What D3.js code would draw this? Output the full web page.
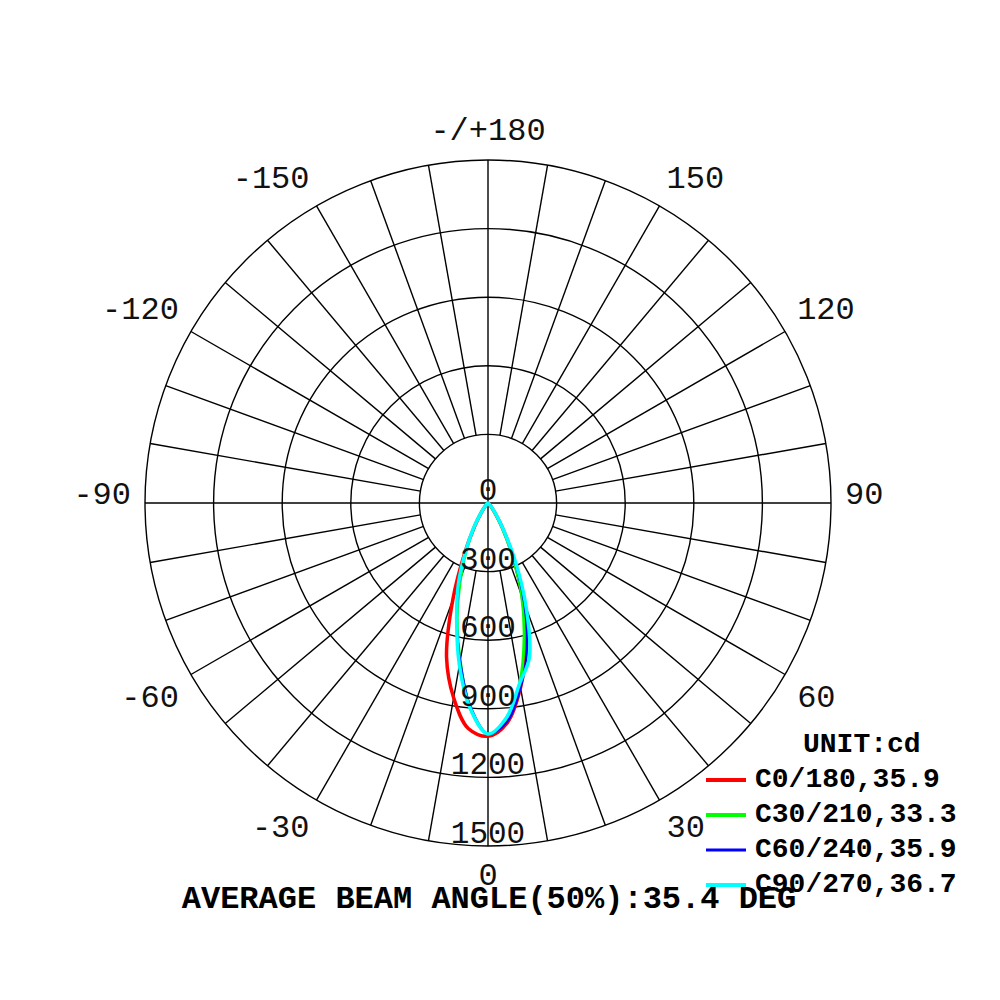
<!DOCTYPE html>
<html>
<head>
<meta charset="utf-8">
<script src="https://cdn.jsdelivr.net/npm/d3@7"></script>
<style>
    html, body { margin: 0; padding: 0; background: #ffffff; }
    svg { display: block; }
</style>
</head>
<body>
<svg id="chart"></svg>
<script>
"use strict";

// gamma angles (deg) measured from nadir, 0..180
const gamma_angles = [0, 5, 10, 15, 20, 25, 30, 35, 40, 45, 50, 55, 60, 65, 70, 75, 80, 85, 90,
    95, 100, 105, 110, 115, 120, 125, 130, 135, 140, 145, 150, 155, 160, 165, 170, 175, 180];

// intensities (cd), right half = C plane, left half = C plane + 180
const c0_values   = [1020, 965, 820, 640, 440, 260, 130, 55, 22, 10, 6, 4, 3, 2, 2, 1, 1, 1, 0,
    0, 0, 0, 0, 0, 0, 0, 0, 0, 0, 0, 0, 0, 0, 0, 0, 0, 0];
const c180_values = [1020, 990, 865, 700, 450, 240, 115, 50, 20, 9, 5, 4, 3, 2, 2, 1, 1, 1, 0,
    0, 0, 0, 0, 0, 0, 0, 0, 0, 0, 0, 0, 0, 0, 0, 0, 0, 0];
const c30_values  = [1010, 955, 800, 610, 430, 250, 120, 50, 20, 9, 5, 4, 3, 2, 2, 1, 1, 1, 0,
    0, 0, 0, 0, 0, 0, 0, 0, 0, 0, 0, 0, 0, 0, 0, 0, 0, 0];
const c210_values = [1010, 900, 700, 520, 350, 220, 120, 55, 22, 10, 6, 4, 3, 2, 2, 1, 1, 1, 0,
    0, 0, 0, 0, 0, 0, 0, 0, 0, 0, 0, 0, 0, 0, 0, 0, 0, 0];
const c60_values  = [1010, 960, 820, 660, 460, 270, 130, 55, 22, 10, 6, 4, 3, 2, 2, 1, 1, 1, 0,
    0, 0, 0, 0, 0, 0, 0, 0, 0, 0, 0, 0, 0, 0, 0, 0, 0, 0];
const c240_values = [1010, 890, 700, 530, 370, 230, 120, 55, 22, 10, 6, 4, 3, 2, 2, 1, 1, 1, 0,
    0, 0, 0, 0, 0, 0, 0, 0, 0, 0, 0, 0, 0, 0, 0, 0, 0, 0];
const c90_values  = [1010, 940, 800, 700, 490, 285, 135, 60, 25, 11, 6, 4, 3, 2, 2, 1, 1, 1, 0,
    0, 0, 0, 0, 0, 0, 0, 0, 0, 0, 0, 0, 0, 0, 0, 0, 0, 0];
const c270_values = [1010, 900, 720, 530, 380, 230, 125, 55, 22, 10, 6, 4, 3, 2, 2, 1, 1, 1, 0,
    0, 0, 0, 0, 0, 0, 0, 0, 0, 0, 0, 0, 0, 0, 0, 0, 0, 0];

const series_names = ["C0/180,35.9", "C30/210,33.3", "C60/240,35.9", "C90/270,36.7"];
const series_colors = ["#ff0000", "#00ff00", "#0000ff", "#00ffff"];
const series_widths = [3.5, 3, 2.2, 3.5];
const right_values = [c0_values, c30_values, c60_values, c90_values];
const left_values = [c180_values, c210_values, c240_values, c270_values];

const ring_values = [300, 600, 900, 1200, 1500];
const spoke_angles = [0, 10, 20, 30, 40, 50, 60, 70, 80, 90, 100, 110, 120, 130, 140, 150, 160, 170,
    180, 190, 200, 210, 220, 230, 240, 250, 260, 270, 280, 290, 300, 310, 320, 330, 340, 350];
const angle_ticks = [0, 30, 60, 90, 120, 150, 180, -150, -120, -90, -60, -30];
const angle_tick_labels = ["0", "30", "60", "90", "120", "150", "-/+180", "-150", "-120", "-90", "-60", "-30"];

const title_text = "AVERAGE BEAM ANGLE(50%):35.4 DEG";
const unit_text = "UNIT:cd";

const width = 1000;
const height = 1000;
const cx = 488;
const cy = 503;
const outer_r = 343;
const label_r = 357;
const mono = "'Liberation Mono', 'DejaVu Sans Mono', monospace";

const svg = d3.select('#chart')
    .attr('width', width)
    .attr('height', height);

const r = d3.scaleLinear().domain([0, 1500]).range([0, outer_r]);

// angle from nadir, positive to the right -> screen point
function polar(deg, radius) {
    const a = deg * Math.PI / 180;
    return [cx + radius * Math.sin(a), cy + radius * Math.cos(a)];
}

const grid = svg.append('g').attr('class', 'grid');

grid.selectAll('.ring')
    .data(ring_values)
    .enter().append('circle')
    .attr('class', 'ring')
    .attr('cx', cx)
    .attr('cy', cy)
    .attr('r', d => r(d))
    .attr('fill', 'none')
    .attr('stroke', '#000')
    .attr('stroke-width', 1.4);

grid.selectAll('.spoke')
    .data(spoke_angles)
    .enter().append('line')
    .attr('class', 'spoke')
    .attr('x1', d => polar(d, d % 90 === 0 ? 0 : r(300))[0])
    .attr('y1', d => polar(d, d % 90 === 0 ? 0 : r(300))[1])
    .attr('x2', d => polar(d, r(1500))[0])
    .attr('y2', d => polar(d, r(1500))[1])
    .attr('stroke', '#000')
    .attr('stroke-width', 1.4);

// curves: right half C, left half C+180
const radial = d3.lineRadial()
    .angle(d => d[0])
    .radius(d => d[1])
    .curve(d3.curveCatmullRomClosed.alpha(0.5));

const curves = svg.append('g')
    .attr('transform', `translate(${cx}, ${cy})`);

series_names.forEach(function (name, k) {
    const pts = [];
    gamma_angles.forEach(function (g, i) {
        pts.push([Math.PI - g * Math.PI / 180, r(right_values[k][i])]);
    });
    for (let i = gamma_angles.length - 2; i > 0; i--) {
        const g = gamma_angles[i];
        pts.push([Math.PI + g * Math.PI / 180, r(left_values[k][i])]);
    }
    curves.append('path')
        .attr('d', radial(pts))
        .attr('fill', 'none')
        .attr('stroke', series_colors[k])
        .attr('stroke-width', series_widths[k])
        .attr('stroke-linejoin', 'round');
});

// ring value labels
svg.selectAll('.ring-label')
    .data([0].concat(ring_values))
    .enter().append('text')
    .attr('class', 'ring-label')
    .attr('x', cx)
    .attr('y', d => cy + r(d) - 3)
    .attr('text-anchor', 'middle')
    .style('font-family', mono)
    .style('font-size', '31px')
    .attr('fill', '#111')
    .text(d => d);

// angle labels, pushed outward from an anchor point on label_r
function labelAnchor(d) {
    const s = Math.sin(d * Math.PI / 180);
    if (s > 0.01) return 'start';
    if (s < -0.01) return 'end';
    return 'middle';
}

function labelY(d) {
    const c = Math.cos(d * Math.PI / 180);
    const y = polar(d, label_r)[1];
    if (Math.abs(c) < 0.01) return cy + 1;
    return c < 0 ? y - 6 : y + 25;
}

svg.selectAll('.angle-label')
    .data(angle_ticks)
    .enter().append('text')
    .attr('class', 'angle-label')
    .attr('x', d => polar(d, label_r)[0])
    .attr('y', d => labelY(d))
    .attr('text-anchor', d => labelAnchor(d))
    .style('font-family', mono)
    .style('font-size', '32px')
    .attr('fill', '#111')
    .text((d, i) => angle_tick_labels[i]);

// legend
const legend = svg.append('g').attr('class', 'legend');

legend.append('text')
    .attr('x', 803)
    .attr('y', 752)
    .style('font-family', mono)
    .style('font-size', '28px')
    .style('font-weight', 'bold')
    .attr('fill', '#000')
    .text(unit_text);

const entry = legend.selectAll('.entry')
    .data(series_names)
    .enter().append('g')
    .attr('class', 'entry')
    .attr('transform', (d, i) => `translate(0, ${780 + i * 35})`);

entry.append('line')
    .attr('x1', 706)
    .attr('x2', 746)
    .attr('y1', 0)
    .attr('y2', 0)
    .attr('stroke', (d, i) => series_colors[i])
    .attr('stroke-width', (d, i) => i === 2 ? 2.8 : 4);

entry.append('text')
    .attr('x', 755)
    .attr('y', 7)
    .style('font-family', mono)
    .style('font-size', '28px')
    .style('font-weight', 'bold')
    .attr('fill', '#000')
    .text(d => d);

// title
svg.append('text')
    .attr('x', 489)
    .attr('y', 908)
    .attr('text-anchor', 'middle')
    .style('font-family', mono)
    .style('font-size', '32px')
    .style('font-weight', 'bold')
    .attr('fill', '#000')
    .text(title_text);
</script>
</body>
</html>
